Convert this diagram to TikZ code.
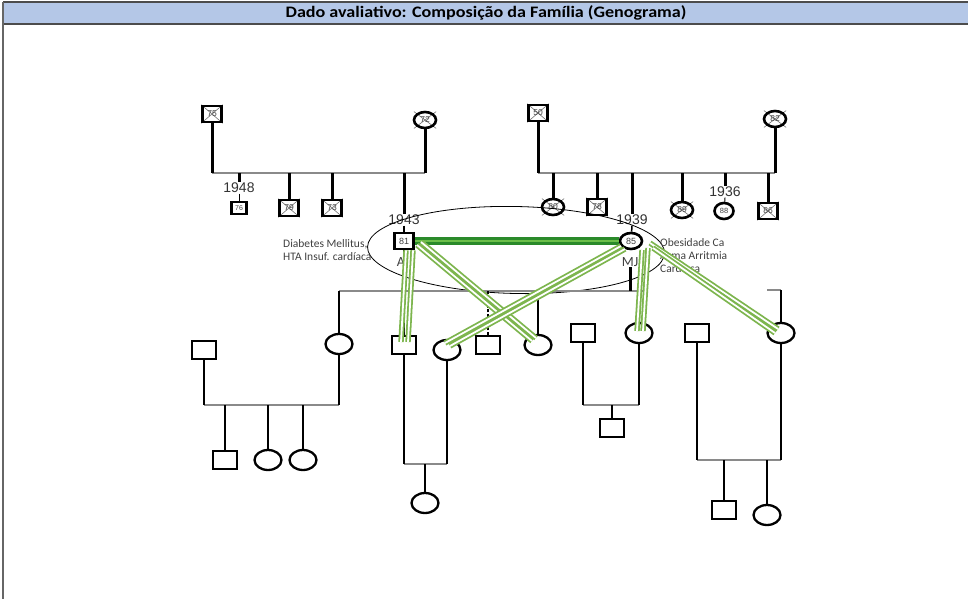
\documentclass[tikz,border=0pt]{standalone}
\usepackage{fontspec}
\setmainfont{Carlito}
\newfontfamily\arialfont{Liberation Sans}
\usetikzlibrary{shapes.geometric, backgrounds}

\definecolor{headblue}{HTML}{B4C7E7}
\definecolor{bonddark}{HTML}{2A8A2A}
\definecolor{bondmid}{HTML}{6CBF4A}
\definecolor{bondlight}{HTML}{7DB54E}
\definecolor{sibgrey}{HTML}{8A8A8A}

\tikzset{
  man/.style={draw, line width=2.6pt, minimum width=19pt, minimum height=16pt, inner sep=0pt,
    font=\arialfont\fontsize{8.5}{8.5}\selectfont, text=black!75},
  woman/.style={man, ellipse, minimum width=22pt, minimum height=16pt},
  smallman/.style={man, line width=2.2pt, minimum width=15pt, minimum height=12pt, font=\arialfont\fontsize{7}{7}\selectfont},
  kidman/.style={draw, line width=2.3pt, minimum width=24pt, minimum height=18pt, inner sep=0pt},
  kidwoman/.style={kidman, ellipse, minimum width=27pt, minimum height=20pt},
  vline/.style={line width=3pt},
  kline/.style={line width=2.5pt},
  hline/.style={line width=2.6pt, sibgrey},
  khline/.style={line width=2.2pt, sibgrey},
  year/.style={font=\arialfont\fontsize{14}{14}\selectfont, inner sep=0.5pt, text=black!80},
  note/.style={font=\fontsize{11.5}{13}\selectfont, align=left, inner sep=0pt, text=black!75},
  initials/.style={font=\fontsize{14}{14}\selectfont, inner sep=0.5pt, text=black!75},
  couple/.style={draw=bonddark, line width=2.4pt, double=bondmid, double distance=2.5pt},
  bond/.style={draw=bondlight, line width=1.8pt, double=white, double distance=1.8pt},
  deadx/.style={line width=0.6pt, black!55},
}

\begin{document}
\begin{tikzpicture}[x=1pt, y=-1pt]
  % page and heading
  \useasboundingbox (0,0) rectangle (968,599);
  \fill[headblue] (3,2) rectangle (968,24);
  \draw[black!70, line width=1.6pt] (3,2) -- (968,2) (3,24) -- (968,24);
  \draw[black!60, line width=1.2pt] (3,2) -- (3,599);
  \node[font=\bfseries\fontsize{16}{16}\selectfont, xscale=1.13, transform shape] (title) at (486,13) {Dado avaliativo: Composição da Família (Genograma)};

  % family of A
  \node[man] (pa) at (212,114) {75};
  \node[woman] (ma) at (425,120) {72};
  \coordinate (sa) at (320,173);
  \node[year] (y48) at (239,188) {1948};
  \node[smallman] (s76) at (239,208) {76};
  \node[man] (s79) at (289,208) {79};
  \node[man] (s73) at (332,208) {73};
  \node[year] (y43) at (404,220) {1943};
  \node[man, font=\arialfont\fontsize{9}{9}\selectfont] (g81) at (404,241) {81};

  % family of MJ
  \node[man] (pm) at (538,113) {50};
  \node[woman] (mm) at (775,119) {82};
  \coordinate (sm) at (650,173);
  \node[woman] (s80) at (553,207) {80};
  \node[man] (s78) at (597,207) {78};
  \node[year] (y39) at (632,220) {1939};
  \node[woman, font=\arialfont\fontsize{9}{9}\selectfont] (g85) at (631,241) {85};
  \node[woman] (s89) at (682,210) {89};
  \node[year] (y36) at (725,192) {1936};
  \node[woman, minimum width=19pt, font=\arialfont\fontsize{7.5}{7.5}\selectfont] (s88) at (724,211) {88};
  \node[man] (s86) at (768,211) {86};

  % deceased, behind the ages
  \begin{scope}[on background layer]
  \foreach \p in {pa,s79,s73,pm,s78,s86} {
    \draw[deadx] (\p.north west) -- (\p.south east);
    \draw[deadx] (\p.north east) -- (\p.south west);
  }
  \foreach \p in {ma,mm,s80,s89} {
    \draw[deadx, shorten <=-3pt, shorten >=-3pt] (\p.north west) -- (\p.south east);
    \draw[deadx, shorten <=-3pt, shorten >=-3pt] (\p.north east) -- (\p.south west);
  }
  \end{scope}

  \draw[hline] (pa |- sa) -- (ma |- sa);
  \draw[vline] (pa) -- (pa |- sa);
  \draw[vline] (ma) -- (ma |- sa);
  \draw[vline] (y48.north |- sa) -- (y48.north);
  \draw[line width=1pt] (y48.south) -- (s76);
  \draw[vline] (s79) -- (s79 |- sa);
  \draw[vline] (s73) -- (s73 |- sa);
  \draw[vline] (y43.north |- sa) -- (y43.north);
  \draw[line width=1.5pt] (y43.south) -- (g81);

  \draw[hline] (pm |- sm) -- (mm |- sm);
  \draw[vline] (pm) -- (pm |- sm);
  \draw[vline] (mm) -- (mm |- sm);
  \draw[vline] (s80) -- (s80 |- sm);
  \draw[vline] (s78) -- (s78 |- sm);
  \draw[vline] (y39.north |- sm) -- (y39.north);
  \draw[line width=1.5pt] (y39.south) -- (g85);
  \draw[vline] (s89) -- (s89 |- sm);
  \draw[vline] (y36.north |- sm) -- (y36.north);
  \draw[line width=1pt] (y36.south) -- (s88);
  \draw[vline] (s86) -- (s86 |- sm);

  % household
  \node[ellipse, draw, line width=0.8pt, minimum width=297pt, minimum height=87pt, rotate=-1.2] (home) at (516,250) {};
  \node[note, anchor=north west] (ntA) at (283,239) {Diabetes Mellitus,\\HTA Insuf. cardíaca};
  \node[note, anchor=north west] (ntMJ) at (660,238) {Obesidade Ca\\Asma Arritmia\\Cardíaca};
  \node[initials] (lA) at (401,262) {A};
  \node[initials] (lMJ) at (630,262) {MJ};
  \coordinate (sc) at (500,291);

  % children of A and MJ
  \node[kidwoman] (c1) at (339,344) {};
  \node[kidman] (c1h) at (204,350) {};
  \node[kidman] (c2) at (404,345) {};
  \node[kidwoman] (c2w) at (447,350) {};
  \node[kidman] (c3) at (488,345) {};
  \node[kidwoman] (c4) at (538,345) {};
  \node[kidman] (c5h) at (583,333) {};
  \node[kidwoman] (c5) at (639,333) {};
  \node[kidman] (c6h) at (697,333) {};
  \node[kidwoman] (c6) at (781,333) {};

  \draw[khline] (c1 |- sc) -- ([xshift=6pt]c5 |- sc);
  \draw[line width=1.6pt] (g81) -- (g81 |- sc);
  \draw[vline] (lMJ.south) -- (lMJ.south |- sc);
  \draw[kline] (c1) -- (c1 |- sc);
  \draw[kline] (c2) -- (c2 |- sc);
  \draw[kline, dash pattern=on 3pt off 1.5pt] (c3) -- (c3 |- sc);
  \draw[kline] (c4) -- (c4 |- sc);
  \draw[kline] (c5) -- (c5 |- sc);
  \coordinate (st6) at (767,290);
  \draw[khline] (st6) -- (c6 |- st6);
  \draw[kline] (c6) -- (c6 |- st6);

  % grandchildren
  \coordinate (u1) at (270,405);
  \node[kidman] (k1a) at (225,460) {};
  \node[kidwoman] (k1b) at (268,460) {};
  \node[kidwoman] (k1c) at (303,460) {};
  \draw[khline] (c1h |- u1) -- (c1 |- u1);
  \draw[kline] (c1h) -- (c1h |- u1);
  \draw[kline] (c1) -- (c1 |- u1);
  \foreach \k in {k1a,k1b,k1c} \draw[kline] (\k) -- (\k |- u1);

  \coordinate (u2) at (425,464);
  \node[kidwoman] (k2) at (425,503) {};
  \draw[khline] (c2 |- u2) -- (c2w |- u2);
  \draw[kline] (c2) -- (c2 |- u2);
  \draw[kline] (c2w) -- (c2w |- u2);
  \draw[kline] (k2) -- (k2 |- u2);

  \coordinate (u5) at (612,405);
  \node[kidman] (k5) at (612,428) {};
  \draw[khline] (c5h |- u5) -- (c5 |- u5);
  \draw[kline] (c5h) -- (c5h |- u5);
  \draw[kline] (c5) -- (c5 |- u5);
  \draw[kline] (k5) -- (k5 |- u5);

  \coordinate (u6) at (740,460);
  \node[kidman] (k6a) at (724,510) {};
  \node[kidwoman] (k6b) at (767,515) {};
  \draw[khline] (c6h |- u6) -- (c6 |- u6);
  \draw[kline] (c6h) -- (c6h |- u6);
  \draw[kline] (c6) -- (c6 |- u6);
  \foreach \k in {k6a,k6b} \draw[kline] (\k) -- (\k |- u6);

  % relationships
  \draw[couple] (g81) -- (g85);
  \draw[bond] ([shift={(2,0)}]g81.south) -- ([shift={(-3,-3)}]c2.center);
  \draw[bond] ([shift={(9,0)}]g81.south) -- ([shift={(4,-3)}]c2.center);
  \draw[bond] ([shift={(13,4)}]g81.center) -- ([shift={(-6,-4)}]c4.center);
  \draw[bond] ([shift={(17,1)}]g81.center) -- ([shift={(-2,-7)}]c4.center);
  \draw[bond] ([shift={(-10,5)}]g85.center) -- ([shift={(-2,-7)}]c2w.center);
  \draw[bond] ([shift={(-6,8)}]g85.center) -- ([shift={(3,-4)}]c2w.center);
  \draw[bond] ([shift={(11,9)}]g85.center) -- ([shift={(-2,-2)}]c5.center);
  \draw[bond] ([shift={(17,7)}]g85.center) -- ([shift={(4,-2)}]c5.center);
  \draw[bond] ([shift={(19,2)}]g85.center) -- ([shift={(-3,-4)}]c6.center);
  \draw[bond] ([shift={(22,7)}]g85.center) -- ([shift={(-6,0)}]c6.center);
\end{tikzpicture}
\end{document}
